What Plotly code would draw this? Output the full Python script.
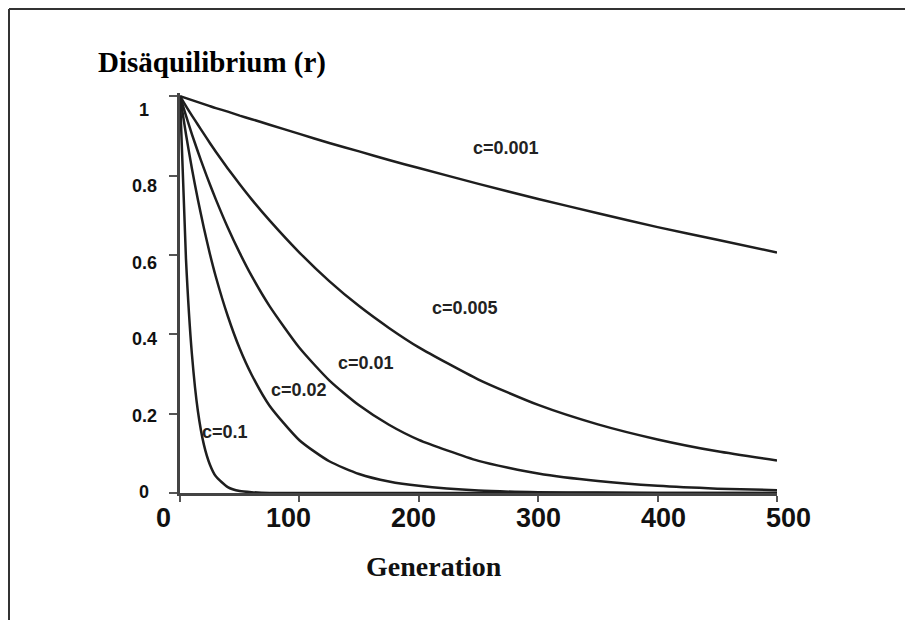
import plotly.graph_objects as go

generation = [0, 5, 10, 15, 20, 25, 30, 40, 50, 60, 75, 100, 125, 150, 175, 200,
              250, 300, 350, 400, 450, 500]

r_c0001 = [1.0, 0.995, 0.990, 0.985, 0.980, 0.975, 0.970, 0.961, 0.951, 0.942, 0.928, 0.905,
           0.882, 0.861, 0.839, 0.819, 0.779, 0.741, 0.705, 0.670, 0.638, 0.606]
r_c0005 = [1.0, 0.975, 0.951, 0.928, 0.905, 0.882, 0.860, 0.818, 0.778, 0.740, 0.687, 0.606,
           0.534, 0.471, 0.416, 0.367, 0.286, 0.222, 0.173, 0.135, 0.105, 0.082]
r_c001 = [1.0, 0.951, 0.904, 0.860, 0.818, 0.778, 0.740, 0.669, 0.605, 0.547, 0.471, 0.366,
          0.284, 0.221, 0.172, 0.134, 0.081, 0.049, 0.030, 0.018, 0.011, 0.007]
r_c002 = [1.0, 0.904, 0.817, 0.739, 0.668, 0.603, 0.545, 0.446, 0.364, 0.298, 0.220, 0.133,
          0.080, 0.048, 0.029, 0.018, 0.006, 0.002, 0.001, 0.0, 0.0, 0.0]
r_c01 = [1.0, 0.590, 0.349, 0.206, 0.122, 0.072, 0.042, 0.015, 0.005, 0.002, 0.0, 0.0,
         0.0, 0.0, 0.0, 0.0, 0.0, 0.0, 0.0, 0.0, 0.0, 0.0]

series = [r_c0001, r_c0005, r_c001, r_c002, r_c01]
labels = ["c=0.001", "c=0.005", "c=0.01", "c=0.02", "c=0.1"]
label_x = [273, 239, 156, 100, 38]
label_y = [0.869, 0.466, 0.327, 0.259, 0.154]

x_ticks = [0, 100, 200, 300, 400, 500]
y_ticks = [0, 0.2, 0.4, 0.6, 0.8, 1]
y_tick_text = ["0", "0.2", "0.4", "0.6", "0.8", "1"]

# the page puts the figure 8px in from the top-left corner
W, H = 905, 612
def X(px):
    return (px - 8) / W
def Y(py):
    return 1 - (py - 8) / H

ink = "#1e1e1e"
sans = "Liberation Sans, Arial"
serif = "Liberation Serif, Times New Roman"

fig = go.Figure()
for vals in series:
    fig.add_trace(go.Scatter(x=generation, y=vals, mode="lines",
                             line=dict(color=ink, width=2.5, shape="spline", smoothing=0.6),
                             showlegend=False, hoverinfo="skip"))
# empty trace so the hidden label axes exist
fig.add_trace(go.Scatter(x=[], y=[], xaxis="x2", yaxis="y2", showlegend=False))

annotations = []
for txt, lx, ly in zip(labels, label_x, label_y):
    annotations.append(dict(x=lx, y=ly, xref="x", yref="y", text="<b>%s</b>" % txt,
                            showarrow=False, font=dict(family=sans, size=18, color="#222")))
for v in x_ticks:
    annotations.append(dict(x=v, y=Y(518), xref="x2", yref="paper", text="<b>%d</b>" % v,
                            showarrow=False, yanchor="middle",
                            font=dict(family=sans, size=27, color="#111")))
for v, t in zip(y_ticks, y_tick_text):
    annotations.append(dict(x=X(144), y=v, xref="paper", yref="y2", text="<b>%s</b>" % t,
                            showarrow=False, xanchor="center", yanchor="middle",
                            font=dict(family=sans, size=18, color="#111")))
annotations.append(dict(x=X(96), y=Y(62), xref="paper", yref="paper", xanchor="left",
                        yanchor="middle", showarrow=False, text="<b>Disäquilibrium (r)</b>",
                        font=dict(family=serif, size=29, color="#000")))
annotations.append(dict(x=X(434), y=Y(566), xref="paper", yref="paper", xanchor="center",
                        yanchor="middle", showarrow=False, text="<b>Generation</b>",
                        font=dict(family=serif, size=28, color="#111")))

# frame: only the top and left edges fall inside the picture
shapes = [
    dict(type="line", xref="paper", yref="paper", x0=X(9), x1=X(9), y0=-0.1, y1=1 - 1 / H,
         line=dict(color="#333", width=2)),
    dict(type="line", xref="paper", yref="paper", x0=X(9), x1=1.1, y0=1 - 1 / H, y1=1 - 1 / H,
         line=dict(color="#333", width=2)),
]

fig.update_layout(
    width=W, height=H, margin=dict(l=0, r=0, t=0, b=0),
    paper_bgcolor="white", plot_bgcolor="rgba(0,0,0,0)",
    annotations=annotations, shapes=shapes,
    xaxis=dict(domain=[X(180), X(777)], range=[0, 500], tickvals=x_ticks, showticklabels=False,
               showgrid=False, zeroline=False, showline=True, linecolor="#444", linewidth=2.5,
               ticks="outside", ticklen=6, tickwidth=1.5, tickcolor="#555", anchor="y"),
    yaxis=dict(domain=[Y(493), Y(93)], range=[0, 1.008], tickvals=y_ticks,
               showticklabels=False, showgrid=False, zeroline=False, showline=True,
               linecolor="#444", linewidth=2.5, ticks="outside", ticklen=8, tickwidth=1.5,
               tickcolor="#555", anchor="x"),
    xaxis2=dict(domain=[X(163), X(788)], range=[0, 500], visible=False, anchor="y2"),
    yaxis2=dict(domain=[Y(492), Y(110)], range=[0, 1], visible=False, anchor="x2"),
)

fig.write_html("out.html")
